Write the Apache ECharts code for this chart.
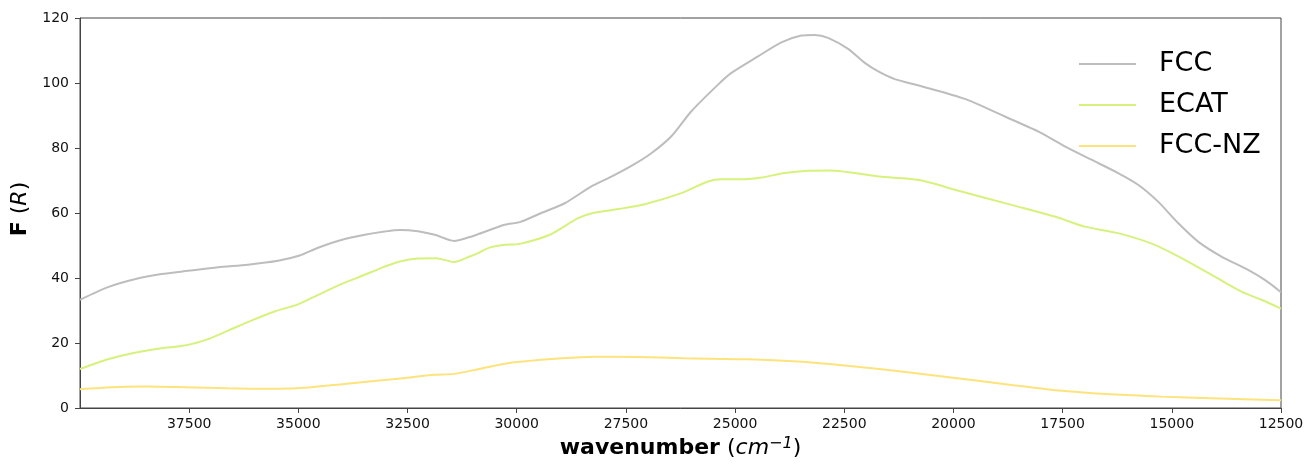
<!DOCTYPE html>
<html>
<head>
<meta charset="utf-8">
<script src="https://cdn.jsdelivr.net/npm/echarts@6/dist/echarts.min.js"></script>
<style>
html,body{margin:0;padding:0;background:#fff;}
#chart{width:1310px;height:464px;}
</style>
</head>
<body>
<div id="chart"></div>
<script>
// ---- data ----
const seriesNames = ['FCC', 'ECAT', 'FCC-NZ'];

const fccWave = [40000,39359,38748,38138,37527,36840,36153,35466,34969,34550,34016,33481,33023,32679,32260,31878,31435,31076,30860,30275,29931,29436,28901,28291,27833,27375,26917,26459,26001,25390,25085,24474,23940,23482,23176,22871,22413,22031,21700,21344,20734,19741,18825,18062,17451,16841,16230,15772,15314,14856,14398,13864,13253,12871,12500];
const fccF    = [33.3,37.2,39.6,41.2,42.2,43.3,44.1,45.3,46.9,49.3,51.7,53.3,54.3,54.8,54.4,53.3,51.4,52.6,53.6,56.4,57.2,60.0,63.0,68.2,71.2,74.5,78.4,83.6,91.3,99.5,103.1,108.2,112.5,114.6,114.8,113.9,110.5,106.2,103.4,101.2,99.0,95.1,89.7,85.1,80.5,76.4,72.3,68.7,63.5,56.9,51.2,46.6,42.5,39.4,35.6];

const ecatWave = [40000,39359,38748,38138,37603,37069,36611,36077,35542,35008,34550,34016,33481,33023,32679,32260,31840,31435,31076,30860,30657,30275,29931,29244,28596,28252,27680,27069,26230,25619,25314,24779,24398,23863,23329,22795,22260,21700,20810,19818,18673,17680,16993,16230,15390,14703,14016,13406,12948,12500];
const ecatF    = [12.0,15.0,17.0,18.4,19.2,21.2,23.8,26.9,29.7,31.9,34.8,38.1,41.0,43.5,45.1,46.0,46.1,44.9,46.6,47.8,49.2,50.2,50.5,53.3,58.4,60.0,61.2,62.7,66.1,69.7,70.4,70.4,70.9,72.3,73.0,73.1,72.3,71.2,70.2,66.6,62.5,58.9,55.8,53.8,50.2,45.6,40.4,35.8,33.3,30.6];

const nzWave = [40000,39283,38519,37603,36611,35466,34855,33939,32718,31878,31420,30860,30199,28978,28214,27298,26153,24703,23558,22489,21700,20199,18673,17528,16383,15238,14093,12500];
const nzF    = [5.8,6.4,6.6,6.4,6.1,5.9,6.2,7.4,9.0,10.2,10.5,12.0,13.8,15.3,15.8,15.7,15.3,15.0,14.3,13.1,12.0,9.6,7.1,5.3,4.2,3.5,3.0,2.4];

const xMin = 12500, xMax = 40000, xStep = 2500;
const yMin = 0, yMax = 120, yStep = 20;

const colors = ['#bdbdbd', '#d6f27c', '#fde37c'];

const zip = (xs, ys) => xs.map((x, i) => [x, ys[i]]);
const allData = [zip(fccWave, fccF), zip(ecatWave, ecatF), zip(nzWave, nzF)];

const FONT = 'DejaVu Sans';
const chart = echarts.init(document.getElementById('chart'), null, {renderer: 'canvas'});
chart.setOption({
  animation: false,
  backgroundColor: '#fff',
  textStyle: {fontFamily: FONT},
  grid: {left: 80, right: 29, top: 18, bottom: 56, show: true, borderColor: '#444', borderWidth: 1, backgroundColor: 'transparent'},
  legend: {
    orient: 'vertical',
    left: 1079,
    top: 49,
    padding: 0,
    icon: 'rect',
    itemWidth: 57,
    itemHeight: 2,
    itemGap: 11,
    data: seriesNames,
    textStyle: {fontFamily: FONT, fontSize: 27, color: '#000', lineHeight: 30, padding: [0, 0, 0, 18]}
  },
  xAxis: {
    type: 'value',
    inverse: true,
    min: xMin, max: xMax, interval: xStep,
    splitLine: {show: false},
    axisLine: {lineStyle: {color: '#444', width: 1}},
    axisTick: {show: true, length: 5, lineStyle: {color: '#444'}},
    axisLabel: {fontFamily: FONT, fontSize: 14, color: '#111', margin: 9, showMaxLabel: false,
      formatter: v => String(v)},
    name: '{b|wavenumber} ({i|cm}{s|−1})',
    nameLocation: 'middle',
    nameGap: 28,
    nameTextStyle: {
      fontFamily: FONT, fontSize: 22, color: '#000',
      rich: {
        b: {fontFamily: FONT, fontSize: 22, fontWeight: 'bold', color: '#000'},
        i: {fontFamily: FONT, fontSize: 22, fontStyle: 'italic', color: '#000'},
        s: {fontFamily: FONT, fontSize: 16, fontStyle: 'italic', color: '#000', verticalAlign: 'top', padding: [0, 0, 8, 0]}
      }
    }
  },
  yAxis: {
    type: 'value',
    min: yMin, max: yMax, interval: yStep,
    splitLine: {show: false},
    axisLine: {show: true, lineStyle: {color: '#444', width: 1}},
    axisTick: {show: true, length: 5, lineStyle: {color: '#444'}},
    axisLabel: {fontFamily: FONT, fontSize: 14, color: '#111', margin: 11, formatter: v => String(v)},
    name: '{b|F} ({i|R})',
    nameLocation: 'middle',
    nameGap: 34,
    nameRotate: 90,
    nameTextStyle: {
      fontFamily: FONT, fontSize: 22, color: '#000', padding: [0, 0, 0, 8],
      rich: {
        b: {fontFamily: FONT, fontSize: 22, fontWeight: 'bold', color: '#000'},
        i: {fontFamily: FONT, fontSize: 22, fontStyle: 'italic', color: '#000'}
      }
    }
  },
  series: seriesNames.map((n, k) => ({
    name: n,
    type: 'line',
    data: allData[k],
    showSymbol: false,
    smooth: 0.25,
    color: colors[k],
    lineStyle: {color: colors[k], width: 2},
    z: 3 - k
  }))
});
</script>
</body>
</html>
